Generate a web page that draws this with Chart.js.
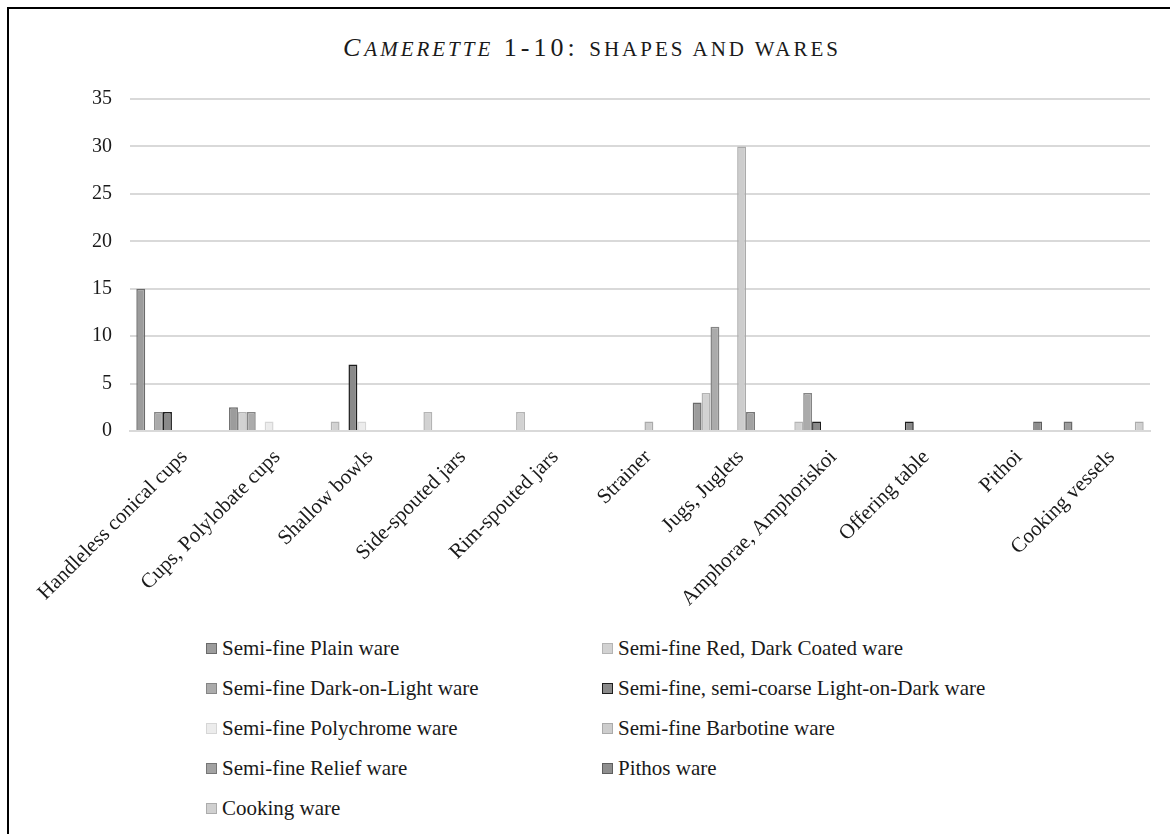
<!DOCTYPE html>
<html>
<head>
<meta charset="utf-8">
<title>Camerette 1-10: shapes and wares</title>
<script src="https://cdn.jsdelivr.net/npm/chart.js@4.4.1/dist/chart.umd.min.js"></script>
<style>
  html, body { margin: 0; background: #fff; overflow: hidden; }
  body { width: 1170px; height: 834px; position: relative;
         font-family: "Liberation Serif", "Times New Roman", serif; color: #1a1a1a; }
  .lineTop  { position: absolute; left: 7px; top: 7px; width: 1163px; height: 2px; background: #000; }
  .lineLeft { position: absolute; left: 7px; top: 7px; width: 2px; height: 827px; background: #000; }
  .title { position: absolute; left: 0; top: 33px; width: 1184px; text-align: center;
           font-size: 26px; line-height: 30px; letter-spacing: 4px; white-space: nowrap; }
  .title .cap { text-transform: uppercase; }
  .title .sc  { text-transform: uppercase; font-size: 21px; letter-spacing: 3px; }
  .chartBox { position: absolute; left: 0; top: 69px; width: 1170px; height: 551px; }
  .legend { position: absolute; left: 206px; top: 628px; display: grid;
            grid-template-columns: 396px 396px; grid-auto-rows: 40px; font-size: 21px; }
  .legend .item { display: flex; align-items: center; white-space: nowrap; }
  .legend .sw { width: 9px; height: 9px; border: 1.5px solid; margin-right: 5px; }
</style>
</head>
<body>
<div class="lineTop"></div>
<div class="lineLeft"></div>
<div class="title"><i><span class="cap">C</span><span class="sc">amerette</span></i> 1-10: <span class="sc">shapes and wares</span></div>
<div class="chartBox"><canvas id="waresChart"></canvas></div>
<div class="legend" id="legend"></div>

<script>
// shapes (x categories)
const shapes = ["Handleless conical cups", "Cups, Polylobate cups", "Shallow bowls", "Side-spouted jars",
                "Rim-spouted jars", "Strainer", "Jugs, Juglets", "Amphorae, Amphoriskoi",
                "Offering table", "Pithoi", "Cooking vessels"];

// counts per ware, null = none
const plainWare      = [15, 2.5, null, null, null, null, 3, null, null, null, 1];
const redDarkCoated  = [null, 2, 1, 2, 2, null, 4, 1, null, null, null];
const darkOnLight    = [2, 2, null, null, null, null, 11, 4, null, null, null];
const lightOnDark    = [2, null, 7, null, null, null, null, 1, 1, null, null];
const polychrome     = [null, 1, 1, null, null, null, null, null, null, null, null];
const barbotine      = [null, null, null, null, null, 1, 30, null, null, null, null];
const reliefWare     = [null, null, null, null, null, null, 2, null, null, null, null];
const pithosWare     = [null, null, null, null, null, null, null, null, null, 1, null];
const cookingWare    = [null, null, null, null, null, null, null, null, null, null, 1];

const wareNames = ["Semi-fine Plain ware", "Semi-fine Red, Dark Coated ware", "Semi-fine Dark-on-Light ware",
                   "Semi-fine, semi-coarse Light-on-Dark ware", "Semi-fine Polychrome ware",
                   "Semi-fine Barbotine ware", "Semi-fine Relief ware", "Pithos ware", "Cooking ware"];
const wareValues = [plainWare, redDarkCoated, darkOnLight, lightOnDark, polychrome,
                    barbotine, reliefWare, pithosWare, cookingWare];

const yTicks = [0, 5, 10, 15, 20, 25, 30, 35];

var fills   = ["#9c9c9c", "#d2d2d2", "#ababab", "#8a8a8a", "#ececec", "#cdcdcd", "#a2a2a2", "#8e8e8e", "#d0d0d0"];
var borders = ["#6a6a6a", "#b4b4b4", "#858585", "#1e1e1e", "#d6d6d6", "#aaaaaa", "#767676", "#5e5e5e", "#acacac"];

var datasets = [];
for (var i = 0; i < wareNames.length; i++) {
  datasets.push({
    label: wareNames[i],
    data: wareValues[i],
    backgroundColor: fills[i],
    borderColor: borders[i],
    borderWidth: 1.5,
    borderSkipped: "bottom"
  });
}

var chart = new Chart("waresChart", {
  type: "bar",
  data: { labels: shapes, datasets: datasets },
  options: {
    responsive: true,
    maintainAspectRatio: false,
    animation: false,
    layout: { padding: { top: 7, right: 20, left: 0, bottom: 0 } },
    datasets: { bar: { categoryPercentage: 0.864, barPercentage: 1 } },
    plugins: {
      legend: { display: false },
      title: { display: false },
      tooltip: { enabled: false }
    },
    scales: {
      x: {
        grid: { display: false, drawTicks: false },
        border: { color: "#d9d9d9", width: 2 },
        ticks: {
          color: "#1a1a1a",
          font: { family: "Liberation Serif", size: 21 },
          minRotation: 45, maxRotation: 45, padding: 14, labelOffset: 8, autoSkip: false
        },
        afterFit: function (scale) { scale.height = 189; }
      },
      y: {
        min: 0, max: 35,
        afterBuildTicks: function (scale) { scale.ticks = yTicks.map(function (v) { return { value: v }; }); },
        grid: { color: "#d9d9d9", lineWidth: 2, drawTicks: false },
        border: { display: false },
        ticks: { color: "#1a1a1a", font: { family: "Liberation Serif", size: 20 }, padding: 18 },
        afterFit: function (scale) { scale.width = 130; }
      }
    }
  }
});

// two-column legend like the original
const legendBox = document.getElementById("legend");
chart.data.datasets.forEach(function (ds) {
  const item = document.createElement("div");
  item.className = "item";
  item.innerHTML = '<span class="sw" style="background:' + ds.backgroundColor + ';border-color:' + ds.borderColor + '"></span>' + ds.label;
  legendBox.append(item);
});
</script>
</body>
</html>
